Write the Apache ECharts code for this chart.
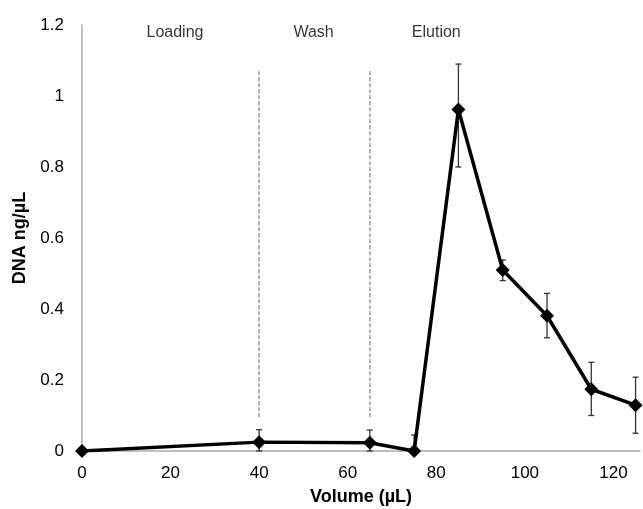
<!DOCTYPE html>
<html>
<head>
<meta charset="utf-8">
<script src="https://cdn.jsdelivr.net/npm/echarts@6/dist/echarts.min.js"></script>
<style>
  html, body { margin: 0; padding: 0; background: #fff; }
  #chart { width: 643px; height: 509px; }
</style>
</head>
<body>
<div id="chart"></div>
<script>
// volume (µL) and DNA concentration (ng/µL)
var volumes = [0, 40, 65, 75, 85, 95, 105, 115, 125];
var dnaConc = [0, 0.025, 0.023, 0, 0.962, 0.51, 0.381, 0.174, 0.129];
var errLow = [0, 0, 0, 0, 0.80, 0.48, 0.319, 0.10, 0.05];
var errHigh = [0, 0.06, 0.059, 0.045, 1.09, 0.538, 0.444, 0.25, 0.208];
// phase separators and labels
var phaseLines = [40, 65];
var phaseLineRange = [0.095, 1.07];
var phaseNames = ["Loading", "Wash", "Elution"];
var phaseLabelX = [21, 52.3, 80];
var phaseLabelY = 1.18;

var chart = echarts.init(document.getElementById("chart"));

var lineData = volumes.map(function (v, i) { return [v, dnaConc[i]]; });
var errData = [];
volumes.forEach(function (v, i) {
  if (errHigh[i] > errLow[i]) errData.push([v, errLow[i], errHigh[i]]);
});

var option = {
  animation: false,
  grid: { left: 82, right: 3, top: 25, bottom: 58, outerBoundsMode: "none", containLabel: false },
  xAxis: {
    type: "value",
    min: 0,
    max: 126,
    interval: 20,
    name: "Volume (µL)",
    nameLocation: "middle",
    nameGap: 37,
    nameTextStyle: { fontFamily: "Liberation Sans", fontWeight: "bold", fontSize: 18, color: "#000" },
    axisLine: { lineStyle: { color: "#aaa", width: 1.5 } },
    axisTick: { show: false },
    splitLine: { show: false },
    axisLabel: {
      showMaxLabel: false,
      margin: 14,
      fontFamily: "Liberation Sans",
      fontSize: 17,
      color: "#000"
    }
  },
  yAxis: {
    type: "value",
    min: 0,
    max: 1.2,
    interval: 0.2,
    name: "DNA ng/µL",
    nameLocation: "middle",
    nameGap: 46,
    nameTextStyle: { fontFamily: "Liberation Sans", fontWeight: "bold", fontSize: 18, color: "#000" },
    axisLine: { show: true, lineStyle: { color: "#aaa", width: 1.5 } },
    axisTick: { show: false },
    splitLine: { show: false },
    axisLabel: {
      margin: 18,
      fontFamily: "Liberation Sans",
      fontSize: 17,
      color: "#000"
    }
  },
  series: [
    {
      type: "custom",
      z: 1,
      data: errData,
      renderItem: function (params, api) {
        var x = api.value(0);
        var lo = api.coord([x, api.value(1)]);
        var hi = api.coord([x, api.value(2)]);
        var cap = 3;
        var style = { stroke: "#333", lineWidth: 1.3 };
        return {
          type: "group",
          children: [
            { type: "line", shape: { x1: lo[0], y1: lo[1], x2: hi[0], y2: hi[1] }, style: style },
            { type: "line", shape: { x1: lo[0] - cap, y1: lo[1], x2: lo[0] + cap, y2: lo[1] }, style: style },
            { type: "line", shape: { x1: hi[0] - cap, y1: hi[1], x2: hi[0] + cap, y2: hi[1] }, style: style }
          ]
        };
      }
    },
    {
      type: "line",
      z: 3,
      data: lineData,
      symbol: "diamond",
      symbolSize: 14,
      lineStyle: { color: "#000", width: 3.5 },
      itemStyle: { color: "#000" },
      markLine: {
        silent: true,
        symbol: "none",
        label: { show: false },
        lineStyle: { color: "#999", type: [4, 2], width: 1.5 },
        data: phaseLines.map(function (x) {
          return [{ coord: [x, phaseLineRange[0]] }, { coord: [x, phaseLineRange[1]] }];
        })
      }
    },
    {
      type: "scatter",
      symbolSize: 0,
      silent: true,
      data: phaseNames.map(function (n, i) { return { name: n, value: [phaseLabelX[i], phaseLabelY] }; }),
      label: {
        show: true,
        position: "inside",
        formatter: "{b}",
        fontFamily: "Liberation Sans",
        fontSize: 16,
        color: "#000"
      }
    }
  ]
};
chart.setOption(option);
</script>
</body>
</html>
